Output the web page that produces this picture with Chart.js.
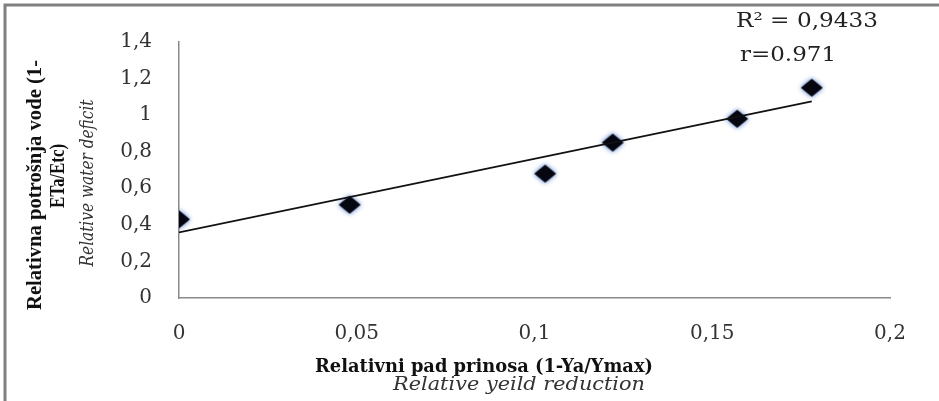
<!DOCTYPE html>
<html lang="sr">
<head>
<meta charset="UTF-8" />
<title>Relativni pad prinosa</title>
<script src="https://cdn.jsdelivr.net/npm/chart.js"></script>
<style>
  html, body { margin: 0; padding: 0; background: #fff; }
  canvas { display: block; }
</style>
</head>
<body>
<canvas id="myCanvas" width="939" height="401"></canvas>
<script>
  // measured points: relative yield reduction vs relative water deficit
  const xValues = [0, 0.048, 0.103, 0.122, 0.157, 0.178];
  const yValues = [0.43, 0.51, 0.68, 0.85, 0.98, 1.15];

  const xTicks = [0, 0.05, 0.1, 0.15, 0.2];
  const yTicks = [0, 0.2, 0.4, 0.6, 0.8, 1, 1.2, 1.4];

  const annotationLines = ["R\u00b2 = 0,9433", "r=0.971"];

  // least squares trend line over the measured points
  function trend(xs, ys) {
    const n = xs.length;
    const mx = xs.reduce((a, b) => a + b, 0) / n;
    const my = ys.reduce((a, b) => a + b, 0) / n;
    let sxy = 0, sxx = 0;
    for (let i = 0; i < n; i++) {
      sxy += (xs[i] - mx) * (ys[i] - my);
      sxx += (xs[i] - mx) * (xs[i] - mx);
    }
    const k = sxy / sxx;
    const b = my - k * mx;
    const x0 = Math.min(...xs), x1 = Math.max(...xs);
    return [{ x: x0, y: b + k * x0 }, { x: x1, y: b + k * x1 }];
  }

  // black diamond with a soft blue rim
  function diamond() {
    const c = document.createElement("canvas");
    c.width = 34;
    c.height = 28;
    const g = c.getContext("2d");
    g.shadowColor = "rgba(60,110,200,0.95)";
    g.shadowBlur = 5;
    g.fillStyle = "#05060f";
    g.beginPath();
    g.moveTo(17, 5);
    g.lineTo(28, 14);
    g.lineTo(17, 23);
    g.lineTo(6, 14);
    g.closePath();
    g.fill();
    return c;
  }

  function comma(v) {
    return String(+v.toFixed(2)).replace(".", ",");
  }

  // text squeezed or widened to a given width
  function fitText(ctx, text, x, y, width) {
    const w = ctx.measureText(text).width;
    ctx.save();
    ctx.translate(x, y);
    ctx.scale(width / w, 1);
    ctx.fillText(text, 0, 0);
    ctx.restore();
  }

  const frame = {
    id: "frame",
    beforeDraw(chart) {
      const ctx = chart.ctx;
      ctx.save();
      ctx.strokeStyle = "#808080";
      ctx.lineWidth = 3;
      ctx.strokeRect(5, 5, 960, 420);
      ctx.restore();
    }
  };

  const labels = {
    id: "labels",
    afterDraw(chart) {
      const ctx = chart.ctx;
      ctx.save();
      ctx.fillStyle = "#111";
      ctx.textAlign = "center";
      ctx.textBaseline = "middle";

      // y axis titles
      ctx.save();
      ctx.translate(35, 185);
      ctx.rotate(-Math.PI / 2);
      ctx.font = "bold 22px 'Liberation Serif'";
      fitText(ctx, "Relativna potrošnja vode (1-", 0, 0, 250);
      ctx.restore();

      ctx.save();
      ctx.translate(58, 176);
      ctx.rotate(-Math.PI / 2);
      ctx.font = "bold 22px 'Liberation Serif'";
      fitText(ctx, "ETa/Etc)", 0, 0, 64);
      ctx.restore();

      ctx.save();
      ctx.translate(88, 183);
      ctx.rotate(-Math.PI / 2);
      ctx.font = "italic 18px 'DejaVu Serif'";
      ctx.fillStyle = "#333";
      fitText(ctx, "Relative water deficit", 0, 0, 167);
      ctx.restore();

      // x axis titles
      ctx.font = "bold 19px 'DejaVu Serif'";
      fitText(ctx, "Relativni pad prinosa (1-Ya/Ymax)", 484, 367, 338);
      ctx.font = "italic 18px 'DejaVu Serif'";
      ctx.fillStyle = "#333";
      fitText(ctx, "Relative yeild reduction", 519, 385, 252);

      // fit statistics
      ctx.fillStyle = "#222";
      ctx.font = "20px 'DejaVu Serif'";
      fitText(ctx, annotationLines[0], 807, 22, 142);
      fitText(ctx, annotationLines[1], 788, 56, 96);
      ctx.restore();
    }
  };

  const points = xValues.map((x, i) => ({ x: x, y: yValues[i] }));
  const tickFont = { family: "'DejaVu Serif'", size: 20 };

  new Chart(document.getElementById("myCanvas"), {
    type: "scatter",
    data: {
      datasets: [
        {
          label: "trend",
          type: "line",
          data: trend(xValues, yValues),
          borderColor: "#111",
          borderWidth: 1.6,
          pointRadius: 0,
          fill: false
        },
        {
          label: "vrednosti",
          data: points,
          pointStyle: diamond(),
          pointRadius: 12
        }
      ]
    },
    options: {
      responsive: false,
      animation: false,
      layout: { padding: { left: 0, top: 42, right: 49, bottom: 0 } },
      plugins: {
        legend: { display: false },
        tooltip: { enabled: false }
      },
      scales: {
        x: {
          type: "linear",
          min: 0,
          max: 0.2,
          afterBuildTicks: (s) => { s.ticks = xTicks.map((v) => ({ value: v })); },
          afterFit: (s) => { s.height = 103; },
          grid: { display: false, drawTicks: false },
          border: { color: "#8a8a8a", width: 1.5 },
          ticks: { font: tickFont, color: "#333", padding: 24, maxRotation: 0, callback: comma }
        },
        y: {
          min: 0,
          max: 1.4,
          afterBuildTicks: (s) => { s.ticks = yTicks.map((v) => ({ value: v })); },
          afterFit: (s) => { s.width = 179; },
          grid: { display: false, drawTicks: false },
          border: { color: "#8a8a8a", width: 1.5 },
          ticks: { font: tickFont, color: "#333", padding: 27, callback: comma }
        }
      }
    },
    plugins: [frame, labels]
  });
</script>
</body>
</html>
